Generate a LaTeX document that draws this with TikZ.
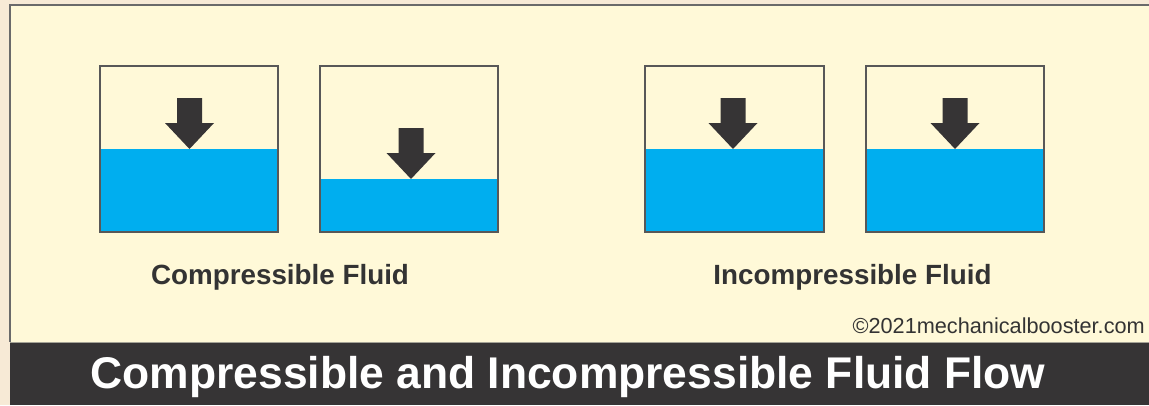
\documentclass[tikz,border=0pt]{standalone}
\usepackage{fontspec}
\setmainfont{Liberation Sans}
\definecolor{outerbg}{HTML}{F7EAD6}
\definecolor{cream}{HTML}{FFF9D8}
\definecolor{framegray}{HTML}{6A6A6A}
\definecolor{boxgray}{HTML}{585858}
\definecolor{waterblue}{HTML}{00AEEF}
\definecolor{arrowdark}{HTML}{363435}
\definecolor{bardark}{HTML}{363435}
\definecolor{textdark}{HTML}{333333}
\newcommand{\drawtank}[4]{% #1 left, #2 right, #3 water level, #4 arrow centre
  \fill[waterblue] (#1,#3) rectangle (#2,232);
  \fill[arrowdark] (#4-12.5,#3-51) -- (#4+12.5,#3-51) -- (#4+12.5,#3-26)
     -- (#4+24.5,#3-26) -- (#4,#3) -- (#4-24.5,#3-26) -- (#4-12.5,#3-26) -- cycle;
  \draw[tank] (#1,66) rectangle (#2,232);
}
\begin{document}
\begin{tikzpicture}[x=1pt,y=-1pt,
  tank/.style={draw=boxgray,line width=1.8pt},
  lbl/.style={font=\bfseries\fontsize{27.8}{32}\selectfont,text=textdark,inner sep=0pt,anchor=base},
  titletext/.style={font=\bfseries\fontsize{44.4}{50}\selectfont,text=white,inner sep=0pt,anchor=base},
  credit/.style={font=\fontsize{21.7}{24}\selectfont,text=textdark,inner sep=0pt,anchor=base east}]
\useasboundingbox (0,0) rectangle (1149,405);
\fill[outerbg] (0,0) rectangle (1149,405);
\fill[cream] (10,5) rectangle (1160,342);
\draw[framegray,line width=2pt] (1160,5) -- (10,5) -- (10,342);
\fill[bardark] (10,342) rectangle (1160,405);
\draw[framegray!60!cream,line width=1pt] (10,342) -- (1160,342);

\drawtank{100}{278}{149}{189.5}
\drawtank{320}{498}{179}{411}
\drawtank{645}{824}{149}{733}
\drawtank{866}{1044}{149}{955}

\node[lbl] (lcomp) at (280,284) {Compressible Fluid};
\node[lbl] (lincomp) at (852.5,284) {Incompressible Fluid};
\node[credit] (copy) at (1145,333) {©2021mechanicalbooster.com};
\node[titletext] (title) at (568,388) {Compressible and Incompressible Fluid Flow};
\end{tikzpicture}
\end{document}
